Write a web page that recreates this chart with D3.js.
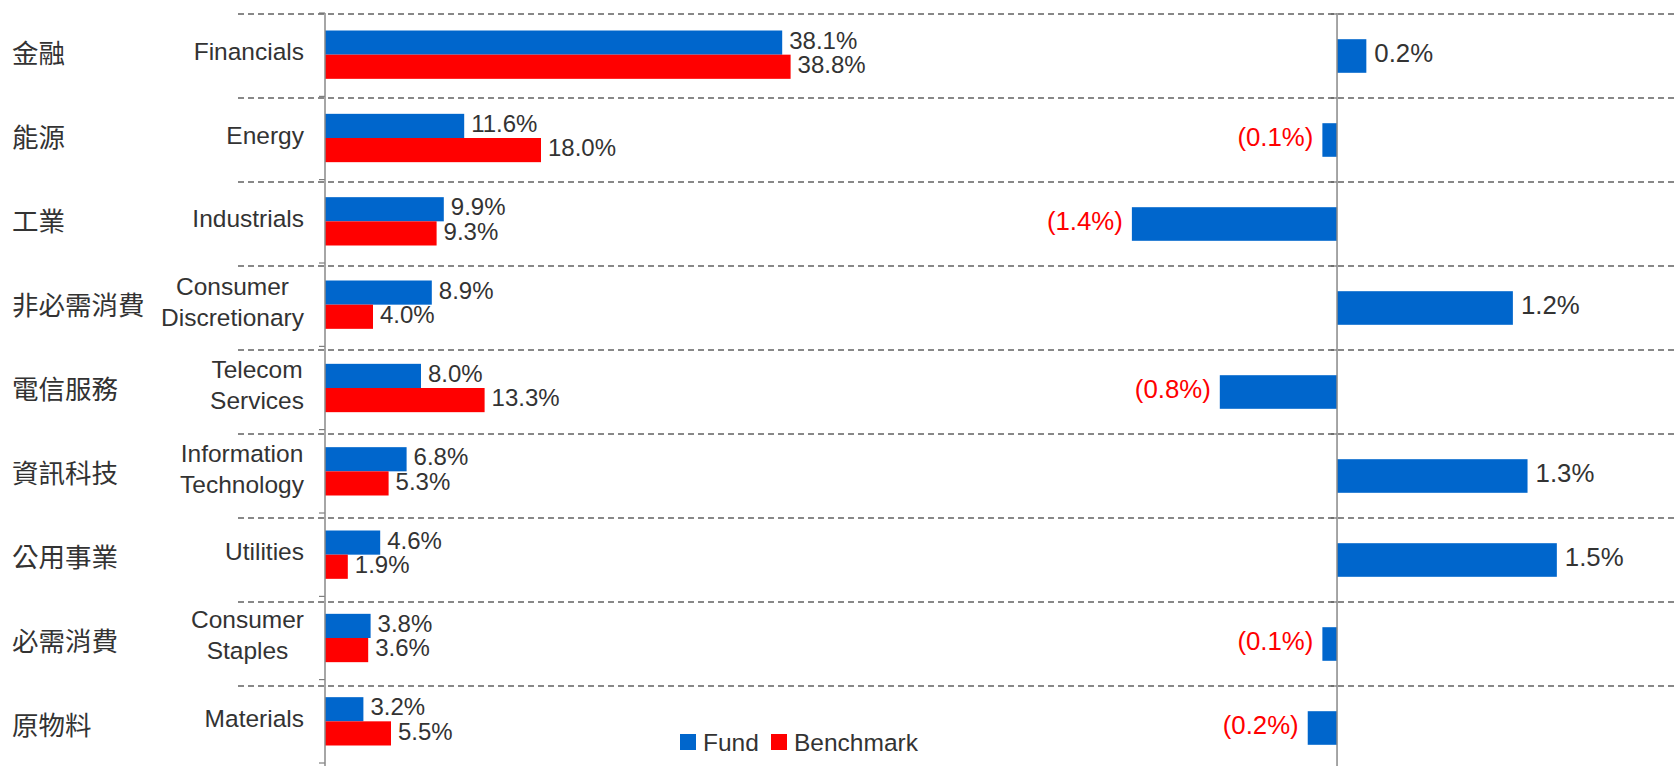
<!DOCTYPE html>
<html>
<head>
<meta charset="utf-8">
<script src="https://cdn.jsdelivr.net/npm/d3@7"></script>
<style>
  body { margin: 0; background: #fff; }
  text { font-family: "Liberation Sans", Arial, sans-serif; }
  .zh { font-family: "Noto Sans CJK TC", "Noto Sans CJK SC", sans-serif; }
</style>
</head>
<body>
<div id="wrapper"></div>
<script>
// sector names
const sectorsZh = ["金融", "能源", "工業", "非必需消費", "電信服務", "資訊科技", "公用事業", "必需消費", "原物料"]
const sectorsEn = [
  ["Financials"], ["Energy"], ["Industrials"], ["Consumer", "Discretionary"],
  ["Telecom", "Services"], ["Information", "Technology"], ["Utilities"],
  ["Consumer", "Staples"], ["Materials"]
]
// weights (%)
const fundValues = [38.1, 11.6, 9.9, 8.9, 8.0, 6.8, 4.6, 3.8, 3.2]
const benchmarkValues = [38.8, 18.0, 9.3, 4.0, 13.3, 5.3, 1.9, 3.6, 5.5]
// relative difference (%)
const diffValues = [0.2, -0.1, -1.4, 1.2, -0.8, 1.3, 1.5, -0.1, -0.2]
const seriesNames = ["Fund", "Benchmark"]

function drawChart() {
  const blue = "#0066cc"
  const red = "#ff0000"
  const textColor = "#333333"

  // 1. dimensions
  let dimensions = {
    width: 1677,
    height: 766,
  }

  // 2. canvas
  const wrapper = d3.select("#wrapper")
    .append("svg")
      .attr("width", dimensions.width)
      .attr("height", dimensions.height)

  // 3. scales
  const leftY = d3.scaleBand()
    .domain(d3.range(sectorsZh.length))
    .range([13, 763])
  const rightY = d3.scaleBand()
    .domain(d3.range(sectorsZh.length))
    .range([14, 770])
  const weightX = d3.scaleLinear()
    .domain([0, 80])
    .range([325, 1285])
  const diffX = d3.scaleLinear()
    .domain([-7.5, 2.32])
    .range([238, 1677])

  // 4. dashed grid lines (row separators)
  wrapper.append("g")
    .selectAll("line")
    .data(d3.range(sectorsZh.length))
    .join("line")
      .attr("x1", diffX.range()[0])
      .attr("x2", diffX.range()[1])
      .attr("y1", i => rightY(i))
      .attr("y2", i => rightY(i))
      .attr("stroke", "#888")
      .attr("stroke-width", 1.8)
      .attr("stroke-dasharray", "6,4")

  // 5. left chart: fund vs benchmark
  const rows = sectorsZh.map((zh, i) => ({
    i, zh, en: sectorsEn[i],
    fund: fundValues[i], bench: benchmarkValues[i], diff: diffValues[i]
  }))
  const barH = leftY.bandwidth() * 0.29

  const left = wrapper.append("g")
  const groups = left.selectAll("g")
    .data(rows)
    .join("g")
      .attr("transform", d => `translate(0, ${leftY(d.i) + leftY.bandwidth() / 2})`)

  const pairs = groups.selectAll("g")
    .data(d => [{v: d.fund, c: blue, k: 0}, {v: d.bench, c: red, k: 1}])
    .join("g")

  pairs.append("rect")
      .attr("x", weightX(0))
      .attr("y", d => d.k === 0 ? -barH : 0)
      .attr("width", d => weightX(d.v) - weightX(0))
      .attr("height", barH)
      .attr("fill", d => d.c)

  pairs.append("text")
      .attr("x", d => weightX(d.v) + 7)
      .attr("y", d => (d.k === 0 ? -barH / 2 : barH / 2) - 2.5)
      .attr("dy", "0.36em")
      .attr("font-size", 24)
      .attr("fill", textColor)
      .text(d => d.v.toFixed(1) + "%")

  // english labels: block right-aligned, lines centred inside the block
  const enLabels = groups.append("text")
      .attr("text-anchor", "middle")
      .attr("font-size", 24.5)
      .attr("fill", textColor)
  enLabels.selectAll("tspan")
    .data(d => d.en.map((t, j) => ({t, j, n: d.en.length})))
    .join("tspan")
      .attr("y", d => (d.j - (d.n - 1) / 2) * 31 - 3)
      .attr("dy", "0.36em")
      .text(d => d.t)
  enLabels.each(function() {
    const spans = d3.select(this).selectAll("tspan").nodes()
    const w = d3.max(spans, s => s.getComputedTextLength())
    d3.select(this).selectAll("tspan").attr("x", 304 - w / 2)
  })

  // left axis
  const leftAxisG = wrapper.append("g")
      .attr("transform", `translate(${weightX(0)}, 0)`)
  leftAxisG.selectAll("line.t")
    .data(d3.range(sectorsZh.length + 1))
    .join("line")
      .attr("x1", -6).attr("x2", 0)
      .attr("y1", i => 13 + leftY.step() * i)
      .attr("y2", i => 13 + leftY.step() * i)
      .attr("stroke", "#666")
  leftAxisG.append("line")
      .attr("y1", 13).attr("y2", dimensions.height)
      .attr("stroke", "#888").attr("stroke-width", 1.5)

  // chinese labels
  wrapper.append("g")
    .selectAll("text")
    .data(rows)
    .join("text")
      .attr("class", "zh")
      .attr("x", 12)
      .attr("y", d => rightY(d.i) + rightY.bandwidth() / 2 - 3)
      .attr("dy", "0.36em")
      .attr("font-size", 26.5)
      .attr("fill", textColor)
      .text(d => d.zh)

  // 6. right chart: difference
  const diffH = rightY.bandwidth() * 0.4
  const right = wrapper.append("g")
  right.selectAll("rect")
    .data(rows)
    .join("rect")
      .attr("x", d => diffX(Math.min(0, d.diff)))
      .attr("y", d => rightY(d.i) + rightY.bandwidth() / 2 - diffH / 2)
      .attr("width", d => Math.abs(diffX(d.diff) - diffX(0)))
      .attr("height", diffH)
      .attr("fill", blue)

  right.selectAll("text")
    .data(rows)
    .join("text")
      .attr("x", d => d.diff < 0 ? diffX(d.diff) - 9 : diffX(d.diff) + 8)
      .attr("y", d => rightY(d.i) + rightY.bandwidth() / 2 - 3)
      .attr("dy", "0.36em")
      .attr("text-anchor", d => d.diff < 0 ? "end" : "start")
      .attr("font-size", 25.8)
      .attr("fill", d => d.diff < 0 ? red : textColor)
      .text(d => d.diff < 0 ? `(${Math.abs(d.diff).toFixed(1)}%)` : d.diff.toFixed(1) + "%")

  const rightAxisG = wrapper.append("g")
      .attr("transform", `translate(${diffX(0)}, 0)`)
  rightAxisG.selectAll("line.t")
    .data(d3.range(sectorsZh.length + 1))
    .join("line")
      .attr("x1", -6).attr("x2", 0)
      .attr("y1", i => 14 + rightY.step() * i)
      .attr("y2", i => 14 + rightY.step() * i)
      .attr("stroke", "#555")
  rightAxisG.append("line")
      .attr("y1", 13).attr("y2", dimensions.height)
      .attr("stroke", "#888").attr("stroke-width", 1.5)

  // 7. legend
  const legend = wrapper.append("g")
      .attr("transform", "translate(680, 734)")
  const items = legend.selectAll("g")
    .data(seriesNames)
    .join("g")
      .attr("transform", (d, i) => `translate(${i * 91}, 0)`)
  items.append("rect")
      .attr("width", 16).attr("height", 16)
      .attr("fill", (d, i) => i === 0 ? blue : red)
  items.append("text")
      .attr("x", 23)
      .attr("y", 8)
      .attr("dy", "0.36em")
      .attr("font-size", 24.5)
      .attr("fill", textColor)
      .text(d => d)
}

drawChart()
</script>
</body>
</html>
